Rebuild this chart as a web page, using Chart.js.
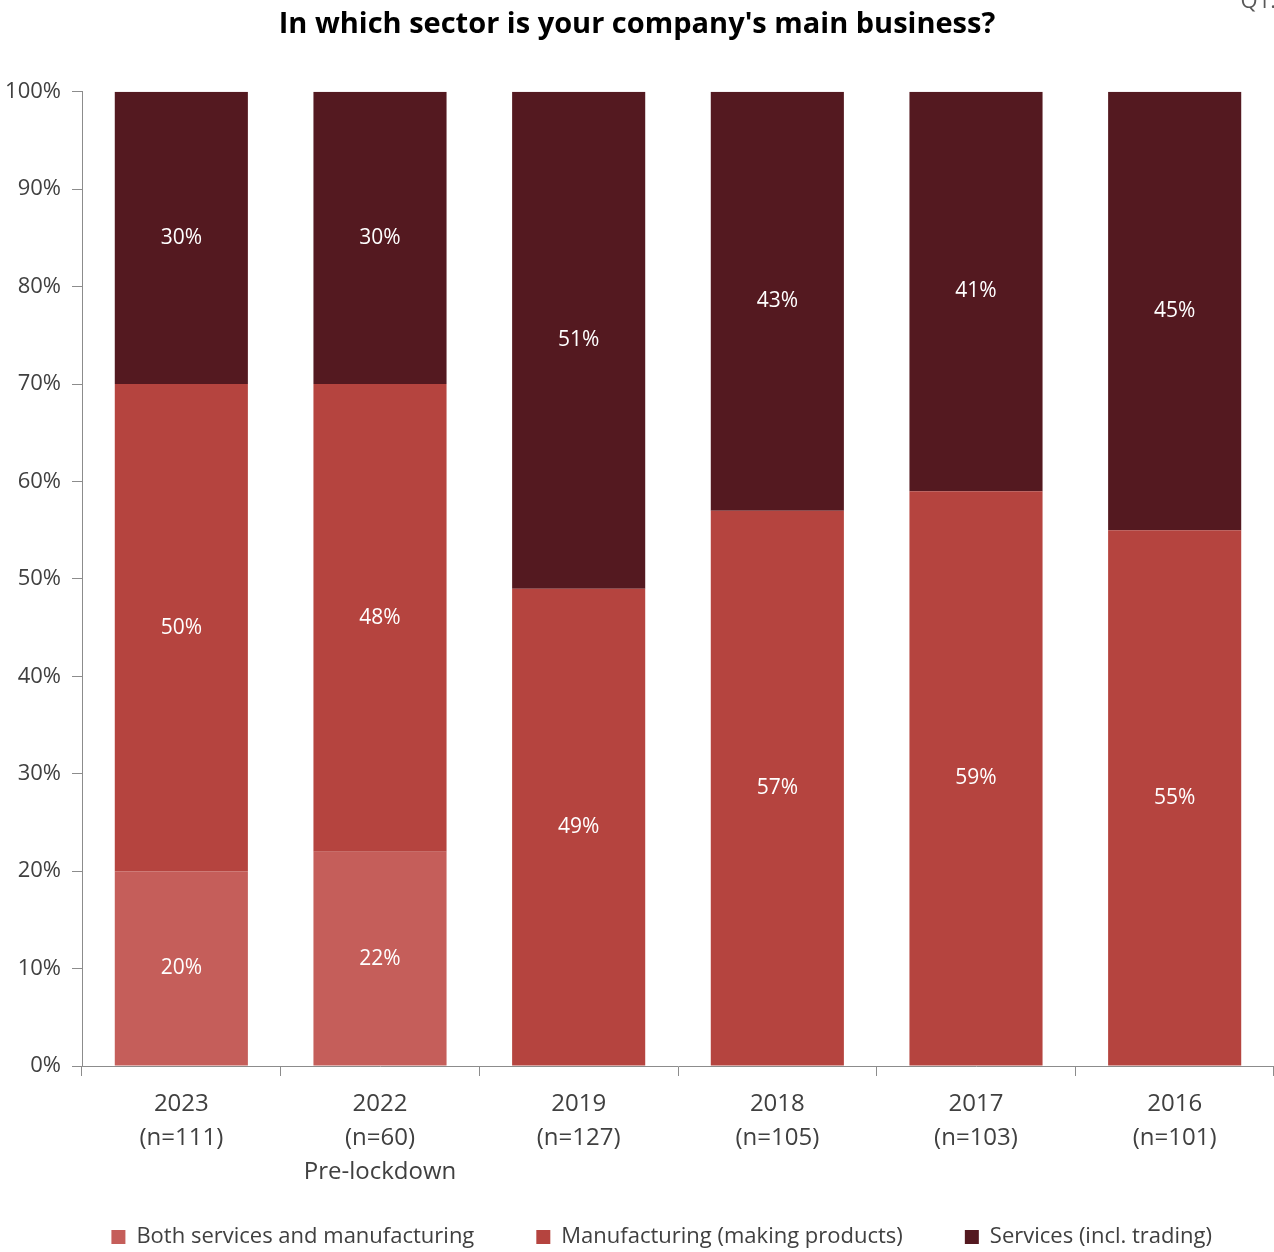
<!DOCTYPE html>
<html>
<head>
<meta charset="utf-8">
<script src="https://cdn.jsdelivr.net/npm/chart.js@4.4.1/dist/chart.umd.min.js"></script>
<style>
    html, body { margin: 0; padding: 0; background: #ffffff; }
    #wrap { width: 1274px; height: 1252px; position: relative; }
</style>
</head>
<body>
<div id="wrap"><canvas id="sector-chart"></canvas></div>
<script>
"use strict";

// Chart data
const years = [
    ['2023', '(n=111)'],
    ['2022', '(n=60)', 'Pre-lockdown'],
    ['2019', '(n=127)'],
    ['2018', '(n=105)'],
    ['2017', '(n=103)'],
    ['2016', '(n=101)']
];
const bothValues = [20, 22, 0, 0, 0, 0];
const manufacturingValues = [50, 48, 49, 57, 59, 55];
const servicesValues = [30, 30, 51, 43, 41, 45];
const yTicks = [0, 10, 20, 30, 40, 50, 60, 70, 80, 90, 100];

const FONT = '"Open Sans", "Noto Sans", sans-serif';
const AXIS_GREY = '#8c8c8c';
const TEXT_GREY = '#404040';

/**
 * Draws the percentage inside each stacked segment, plus the "Q1." corner note
 */
const segmentLabels = {
    id: 'segmentLabels',
    afterDatasetsDraw(chart) {
        const ctx = chart.ctx;
        ctx.save();
        ctx.font = '21px ' + FONT;
        ctx.fillStyle = '#ffffff';
        ctx.textAlign = 'center';
        ctx.textBaseline = 'middle';
        chart.data.datasets.forEach((ds, i) => {
            const meta = chart.getDatasetMeta(i);
            meta.data.forEach((bar, j) => {
                const v = ds.data[j];
                if (!v) return;
                ctx.fillText(v + '%', bar.x, (bar.y + bar.base) / 2);
            });
        });

        ctx.font = '22px ' + FONT;
        ctx.fillStyle = '#595959';
        ctx.textAlign = 'right';
        ctx.textBaseline = 'top';
        ctx.fillText('Q1.', chart.width + 2, -9);
        ctx.restore();
    }
};

const ctx = document.getElementById('sector-chart').getContext('2d');

new Chart(ctx, {
    type: 'bar',
    data: {
        labels: years,
        datasets: [
            {
                label: 'Both services and manufacturing',
                data: bothValues,
                backgroundColor: '#c55e5a'
            },
            {
                label: 'Manufacturing (making products)',
                data: manufacturingValues,
                backgroundColor: '#b5443f'
            },
            {
                label: 'Services (incl. trading)',
                data: servicesValues,
                backgroundColor: '#541920'
            }
        ]
    },
    options: {
        responsive: true,
        maintainAspectRatio: false,
        animation: false,
        layout: {
            padding: { left: 0, right: 0, top: 0, bottom: -6 }
        },
        datasets: {
            bar: {
                barPercentage: 0.67,
                categoryPercentage: 1.0
            }
        },
        scales: {
            x: {
                stacked: true,
                grid: {
                    offset: true,
                    drawOnChartArea: false,
                    drawTicks: true,
                    tickLength: 10,
                    color: AXIS_GREY
                },
                border: { display: true, color: AXIS_GREY },
                ticks: {
                    color: TEXT_GREY,
                    font: { family: FONT, size: 24, lineHeight: 1.42 },
                    padding: 11,
                    maxRotation: 0,
                    autoSkip: false
                },
                afterFit: (scale) => {
                    scale.height = 98;
                    // the third line (Pre-lockdown) runs into the legend box, don't clip it
                    scale._computeLabelArea = () => null;
                }
            },
            y: {
                stacked: true,
                min: 0,
                max: 100,
                afterBuildTicks: (scale) => {
                    scale.ticks = yTicks.map(v => ({ value: v }));
                },
                grid: {
                    drawOnChartArea: false,
                    drawTicks: true,
                    tickLength: 10,
                    color: AXIS_GREY
                },
                border: { display: true, color: AXIS_GREY },
                ticks: {
                    color: TEXT_GREY,
                    font: { family: FONT, size: 22 },
                    padding: 11,
                    callback: (value) => value + '%'
                },
                afterFit: (scale) => { scale.width = 82; }
            }
        },
        plugins: {
            title: {
                display: true,
                text: "In which sector is your company's main business?",
                color: '#000000',
                font: { family: FONT, size: 29, weight: 'bold' },
                padding: { top: 7, bottom: 50 }
            },
            legend: {
                position: 'bottom',
                align: 'end',
                labels: {
                    color: TEXT_GREY,
                    font: { family: FONT, size: 22 },
                    boxWidth: 14,
                    boxHeight: 14,
                    padding: 62
                }
            },
            tooltip: { enabled: false }
        }
    },
    plugins: [segmentLabels]
});
</script>
</body>
</html>
